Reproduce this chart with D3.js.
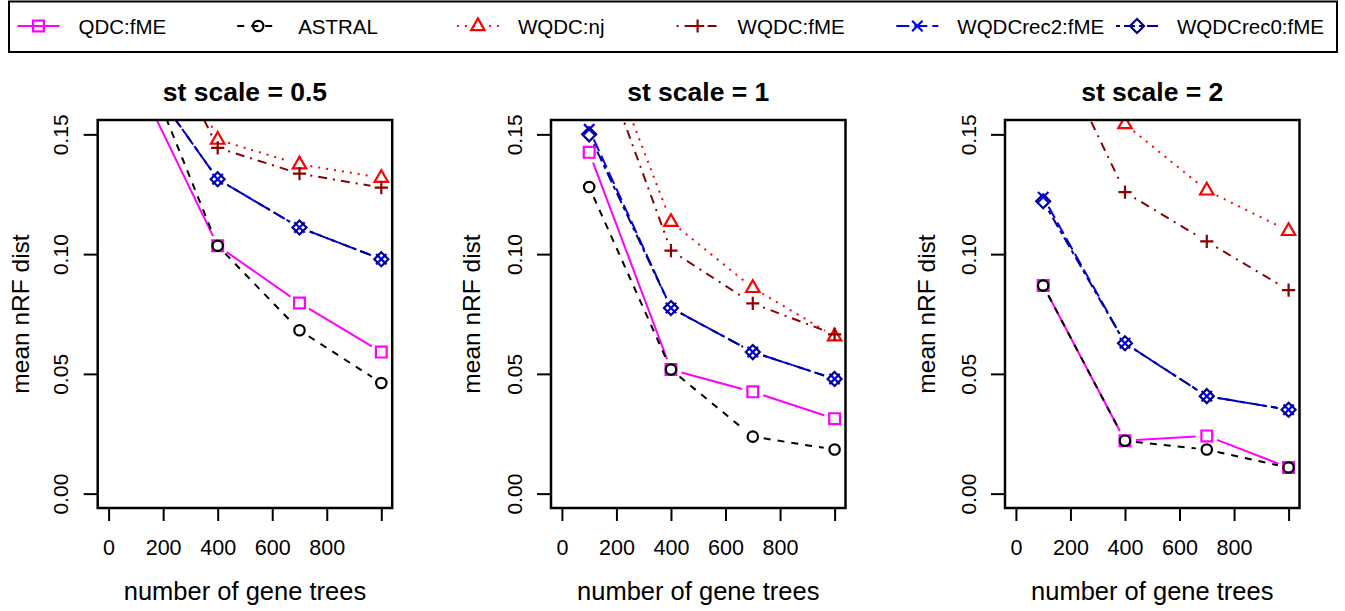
<!DOCTYPE html>
<html>
<head>
<meta charset="utf-8">
<script src="https://cdn.jsdelivr.net/npm/d3@7"></script>
<style>
  body { margin: 0; background: #fff; }
  svg text { font-family: "Liberation Sans", Arial, Helvetica, sans-serif; fill: #000; }
</style>
</head>
<body>
<svg id="chart" width="1345" height="611"></svg>
<script>
// x positions (number of gene trees)
var geneTrees = [100, 400, 700, 1000];
var panelTitles = ["st scale = 0.5", "st scale = 1", "st scale = 2"];
var xTicks = [0, 200, 400, 600, 800, 1000];
var yTicks = [0.00, 0.05, 0.10, 0.15];

// one row per panel (st scale 0.5, 1, 2)
var qdcFME = [[0.174, 0.1035, 0.0796, 0.0591], [0.1425, 0.0518, 0.0425, 0.0313], [0.0869, 0.0221, 0.0241, 0.0109]];
var astral = [[0.188, 0.1035, 0.0682, 0.0462], [0.128, 0.0518, 0.0238, 0.0184], [0.0869, 0.0221, 0.0184, 0.0109]];
var wqdcNJ = [[0.225, 0.1478, 0.1375, 0.1319], [0.2025, 0.1135, 0.0859, 0.0657], [0.22, 0.1543, 0.1266, 0.1097]];
var wqdcFME = [[0.215, 0.1444, 0.1336, 0.1278], [0.1953, 0.1015, 0.0794, 0.0665], [0.197, 0.1259, 0.1053, 0.085]];
var wqdcRec2 = [[0.1795, 0.1313, 0.1111, 0.0979], [0.1521, 0.0775, 0.0591, 0.0479], [0.1238, 0.0628, 0.0407, 0.035]];
var wqdcRec0 = [[0.1795, 0.1313, 0.1111, 0.0979], [0.150, 0.0775, 0.0591, 0.0479], [0.1221, 0.0628, 0.0407, 0.035]];

var seriesNames = ["QDC:fME", "ASTRAL", "WQDC:nj", "WQDC:fME", "WQDCrec2:fME", "WQDCrec0:fME"];
var seriesData = [qdcFME, astral, wqdcNJ, wqdcFME, wqdcRec2, wqdcRec0];
var seriesColors = ["#ff00ff", "#000000", "#ff0000", "#8b0000", "#0000ff", "#00008b"];
var seriesDash = ["none", "7,7", "2,6", "2,6,9,6", "13,5", "4,4,11,4"];
var seriesPch = ["square", "circle", "triangle", "plus", "cross", "diamond"];

// R-like plotting symbols, open shapes
function pchPath(type) {
  var p = d3.path();
  if (type === "square") { p.rect(-5.4, -5.4, 10.8, 10.8); }
  else if (type === "circle") { p.moveTo(5.2, 0); p.arc(0, 0, 5.2, 0, 2 * Math.PI); }
  else if (type === "triangle") { p.moveTo(0, -7.6); p.lineTo(6.7, 4.1); p.lineTo(-6.7, 4.1); p.closePath(); }
  else if (type === "plus") { p.moveTo(-6.6, 0); p.lineTo(6.6, 0); p.moveTo(0, -6.6); p.lineTo(0, 6.6); }
  else if (type === "cross") { p.moveTo(-5.2, -5.2); p.lineTo(5.2, 5.2); p.moveTo(-5.2, 5.2); p.lineTo(5.2, -5.2); }
  else if (type === "diamond") { p.moveTo(0, -7); p.lineTo(7, 0); p.lineTo(0, 7); p.lineTo(-7, 0); p.closePath(); }
  return p.toString();
}

var svg = d3.select("#chart");
var boxLeft = [97.7, 551, 1005], boxW = 294.5, boxTop = 120, boxBottom = 508;
var yLabelX = [20, 471, 926];
var gap = 11; // type="b": lines stop short of the points

panelTitles.forEach(function (title, pi) {
  var x = d3.scaleLinear().domain([-40, 1040]).range([boxLeft[pi], boxLeft[pi] + boxW]);
  var y = d3.scaleLinear().domain([-0.006, 0.156]).range([boxBottom, boxTop]);
  var g = svg.append("g");

  g.append("clipPath").attr("id", "clip" + pi)
    .append("rect").attr("x", x.range()[0]).attr("y", boxTop)
    .attr("width", boxW).attr("height", boxBottom - boxTop);

  var plot = g.append("g").attr("clip-path", "url(#clip" + pi + ")");

  seriesData.forEach(function (s, si) {
    var vals = s[pi];
    for (var i = 0; i < vals.length - 1; i++) {
      var x0 = x(geneTrees[i]), y0 = y(vals[i]), x1 = x(geneTrees[i + 1]), y1 = y(vals[i + 1]);
      var len = Math.hypot(x1 - x0, y1 - y0);
      if (len <= 2 * gap) continue;
      var ux = (x1 - x0) / len, uy = (y1 - y0) / len;
      plot.append("line")
        .attr("x1", x0 + ux * gap).attr("y1", y0 + uy * gap)
        .attr("x2", x1 - ux * gap).attr("y2", y1 - uy * gap)
        .attr("stroke", seriesColors[si]).attr("stroke-width", 2)
        .attr("stroke-dasharray", seriesDash[si]);
    }
  });
  seriesData.forEach(function (s, si) {
    plot.selectAll(".pt" + si).data(s[pi]).enter().append("path")
      .attr("transform", function (d, i) { return "translate(" + x(geneTrees[i]) + "," + y(d) + ")"; })
      .attr("d", pchPath(seriesPch[si])).attr("fill", "none")
      .attr("stroke", seriesColors[si]).attr("stroke-width", 2.2);
  });

  g.append("rect").attr("x", x.range()[0]).attr("y", boxTop)
    .attr("width", boxW).attr("height", boxBottom - boxTop)
    .attr("fill", "none").attr("stroke", "#000").attr("stroke-width", 2.5);

  var xAxis = g.append("g").attr("transform", "translate(0," + boxBottom + ")")
    .call(d3.axisBottom(x).tickValues(xTicks).tickSize(13).tickSizeOuter(0)
      .tickFormat(function (d) { return d === 1000 ? "" : d; }));
  xAxis.select(".domain").remove();
  xAxis.selectAll(".tick line").attr("stroke", "#000").attr("stroke-width", 2);
  xAxis.selectAll(".tick text").attr("y", 39).attr("dy", "0.35em")
    .style("font-size", "21.5px").attr("fill", "#000");

  var yAxis = g.append("g").attr("transform", "translate(" + x.range()[0] + ",0)")
    .call(d3.axisLeft(y).tickValues(yTicks).tickSize(14).tickSizeOuter(0).tickFormat(d3.format(".2f")));
  yAxis.select(".domain").remove();
  yAxis.selectAll(".tick line").attr("stroke", "#000").attr("stroke-width", 2);
  yAxis.selectAll(".tick text")
    .attr("x", null).attr("dy", null)
    .attr("transform", "translate(-37,0) rotate(-90)")
    .attr("text-anchor", "middle").attr("dominant-baseline", "central")
    .style("font-size", "21px").attr("fill", "#000");

  g.append("text").attr("x", x.range()[0] + boxW / 2).attr("y", 92)
    .attr("text-anchor", "middle").attr("dominant-baseline", "central")
    .style("font-size", "26.5px").style("font-weight", "bold").text(title);
  g.append("text").attr("x", x(500)).attr("y", 591)
    .attr("text-anchor", "middle").attr("dominant-baseline", "central")
    .style("font-size", "25.5px").text("number of gene trees");
  g.append("text").attr("transform", "translate(" + yLabelX[pi] + "," + y(0.075) + ") rotate(-90)")
    .attr("text-anchor", "middle").attr("dominant-baseline", "central")
    .style("font-size", "24.5px").text("mean nRF dist");
});

// legend across the top
var legend = svg.append("g");
legend.append("rect").attr("x", 9).attr("y", 1.5).attr("width", 1328).attr("height", 50.5)
  .attr("fill", "#fff").attr("stroke", "#000").attr("stroke-width", 2);
seriesNames.forEach(function (name, si) {
  var cx = 38.5 + si * 219.7, cy = 26;
  legend.append("line").attr("x1", cx - 21).attr("x2", cx + 21).attr("y1", cy).attr("y2", cy)
    .attr("stroke", seriesColors[si]).attr("stroke-width", 2).attr("stroke-dasharray", seriesDash[si]);
  legend.append("path").attr("transform", "translate(" + cx + "," + cy + ")")
    .attr("d", pchPath(seriesPch[si])).attr("fill", "none")
    .attr("stroke", seriesColors[si]).attr("stroke-width", 2.2);
  legend.append("text").attr("x", cx + 40).attr("y", cy).attr("dominant-baseline", "central")
    .style("font-size", "20.5px").text(name);
});
</script>
</body>
</html>
